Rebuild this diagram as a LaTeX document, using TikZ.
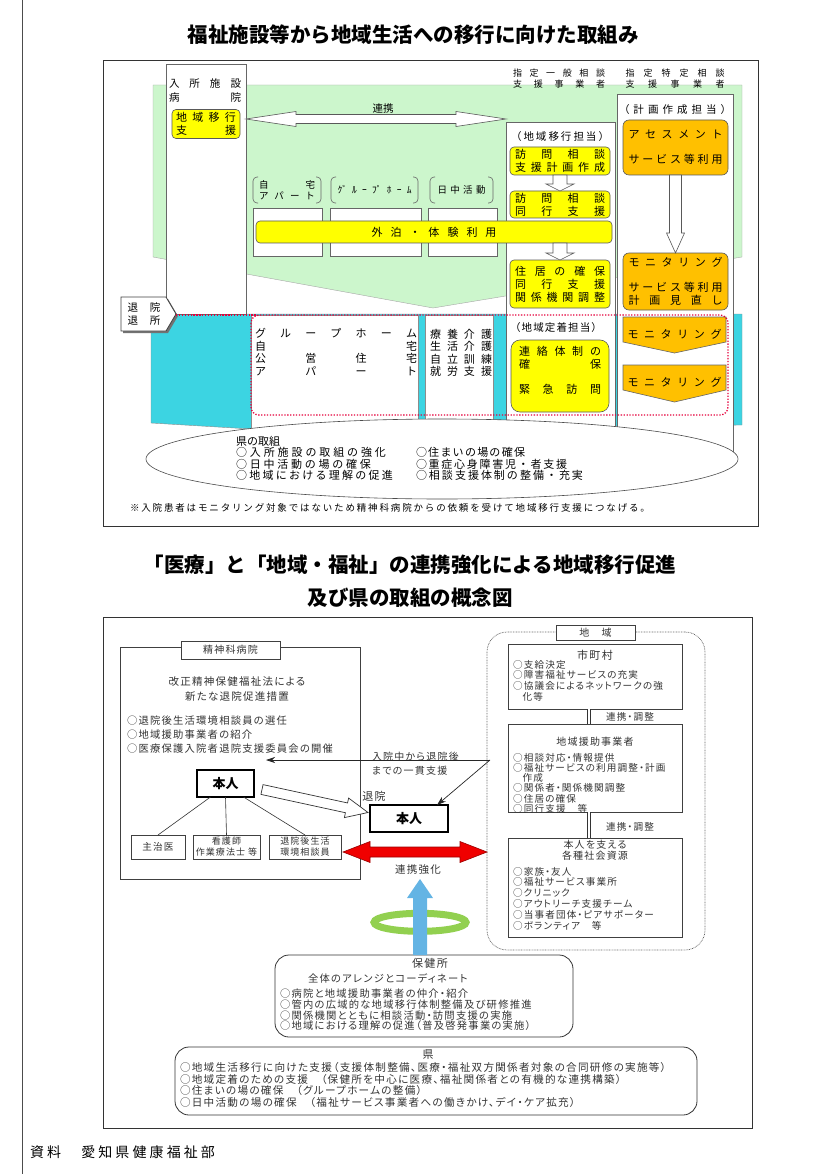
\documentclass[tikz,border=0pt]{standalone}
\usepackage{fontspec}
\setmainfont{Noto Sans CJK JP}
\newfontfamily\jpB{Noto Sans CJK JP}[CharacterWidth=AlternateProportional,LetterSpace=12]
\usetikzlibrary{calc,arrows.meta}
\definecolor{lgreen}{RGB}{204,246,204}
\definecolor{cyanb}{RGB}{60,212,226}
\definecolor{yel}{RGB}{255,255,0}
\definecolor{org}{RGB}{255,192,0}
\definecolor{redA}{RGB}{240,0,0}
\definecolor{blueA}{RGB}{100,180,228}
\definecolor{greenR}{RGB}{146,208,80}
\definecolor{dotred}{RGB}{230,0,60}
\newcommand\sprd[2]{\makebox[#1]{\sprdfirst#2\relax}}
\def\sprdfirst#1{#1\sprdnext}
\def\sprdnext#1{\ifx#1\relax\else\hfill#1\expandafter\sprdnext\fi}
\newcommand\fsz[2]{\fontsize{#1}{#2}\selectfont}
\newcommand\sarrow[6]{%
  \coordinate (sa-m) at ($(#2)!#5!(#1)$);
  \filldraw[#6] ($(#1)!#3!90:(#2)$) -- ($(sa-m)!#3!90:(#2)$) -- ($(sa-m)!#4!90:(#2)$) -- (#2) -- ($(sa-m)!#4!-90:(#2)$) -- ($(sa-m)!#3!-90:(#2)$) -- ($(#1)!#3!-90:(#2)$) -- cycle;}
\newcommand\darrow[6]{%
  \coordinate (da-a) at ($(#1)!#5!(#2)$);
  \coordinate (da-b) at ($(#2)!#5!(#1)$);
  \filldraw[#6] (#1) -- ($(da-a)!#4!90:(#2)$) -- ($(da-a)!#3!90:(#2)$) -- ($(da-b)!#3!-90:(#1)$) -- ($(da-b)!#4!-90:(#1)$) -- (#2) -- ($(da-b)!#4!90:(#1)$) -- ($(da-b)!#3!90:(#1)$) -- ($(da-a)!#3!-90:(#2)$) -- ($(da-a)!#4!-90:(#2)$) -- cycle;}
\begin{document}
\begin{tikzpicture}[x=1pt,y=-1pt,
  every node/.style={inner sep=0pt, outer sep=0pt},
  ybox/.style={draw=black!65, fill=yel, line width=0.6pt, rounded corners=4pt, align=center, font=\fsz{11}{13}},
  obox/.style={draw=black!65, fill=org, line width=0.6pt, rounded corners=6pt, align=center},
  colbox/.style={draw=black!60, fill=white, line width=0.6pt},
  wbox/.style={draw=black!60, fill=white, line width=0.6pt},
  reddot/.style={draw=dotred, line width=1.3pt, dash pattern=on 1.3pt off 1.6pt},
  hol/.style={fill=white, draw=black!65, line width=0.6pt},
  bbox/.style={draw=black!75, line width=0.8pt, fill=white},
  bt/.style={font=\jpB\fsz{9.6}{10.7}, text=black!80, align=left},
  brk/.style={draw=black!60, line width=0.6pt, rounded corners=4pt}
]
\useasboundingbox (0,0) rectangle (829,1174);
% page frame
\draw[black!70, line width=0.8pt] (22,0) -- (22,1174);

% ================= TOP =================
\node[font=\bfseries\fsz{20.5}{22}] (title1) at (413,35) {福祉施設等から地域生活への移行に向けた取組み};
\node[draw=black!80, line width=0.9pt, minimum width=655pt, minimum height=466pt, anchor=north west] (topframe) at (103,60) {};

\filldraw[fill=lgreen, draw=black!35, line width=0.4pt] (153,85) -- (742,85) -- (742,257) -- (433,308) -- (153,257) -- cycle;
\filldraw[fill=cyanb, draw=black!45, line width=0.4pt] (151,314) -- (742,314) -- (742,425) -- (251,429) -- (151,423) -- cycle;
\filldraw[fill=white, draw=black!45, line width=0.4pt] (251,315) rectangle (418,440);
\filldraw[fill=white, draw=black!45, line width=0.4pt] (425,315) rectangle (493,440);

\node[colbox, minimum width=80pt, minimum height=250pt] (col1) at (206,189) {};
\node[colbox, minimum width=109pt, minimum height=338pt] (col2) at (560.5,291) {};
\node[colbox, minimum width=116pt, minimum height=366pt] (col3) at (675,277) {};

\filldraw[fill=white, draw=black!70, line width=0.6pt] (442,459) ellipse [x radius=296pt, y radius=40pt];

% column 1
\node[font=\fsz{10.5}{12}] (nyusho) at (205,84) {\sprd{72pt}{入所施設}};
\node[font=\fsz{10.5}{12}] (byoin) at (205,98) {\sprd{72pt}{病院}};
\node[ybox, minimum width=68pt, minimum height=29pt] (ikou) at (206,124) {\sprd{60pt}{地域移行}\\\sprd{60pt}{支援}};

% renkei arrow
\coordinate (rkA) at (col1.east |- 0,119);
\coordinate (rkB) at (col2.west |- 0,119);
\darrow{rkA}{rkB}{4.5pt}{7.5pt}{50pt}{hol}
\node[font=\fsz{10.5}{12}] (renkei) at (383,109) {連携};

% headers
\node[font=\fsz{9}{11}, align=center] (hd1) at (559,79) {\sprd{92pt}{指定一般相談}\\\sprd{92pt}{支援事業者}};
\node[font=\fsz{9}{11}, align=center] (hd2) at (675,79) {\sprd{99pt}{指定特定相談}\\\sprd{99pt}{支援事業者}};

% column 3
\node[font=\fsz{10.5}{12}] (keikaku) at (675,110) {\sprd{112pt}{（計画作成担当）}};
\node[obox, minimum width=105pt, minimum height=55pt, font=\fsz{11}{25}] (ass) at (675.5,147.5) {\sprd{94pt}{アセスメント}\\\sprd{94pt}{サービス等利用}};
\node[obox, minimum width=105pt, minimum height=57pt, font=\fsz{11}{12.5}] (mon) at (675.5,281.5) {\sprd{94pt}{モニタリング}\\[12.5pt]\sprd{94pt}{サービス等利用}\\\sprd{94pt}{計画見直し}};
\sarrow{ass.south}{mon.north}{6pt}{9pt}{20pt}{hol}

% column 2
\node[font=\fsz{10.5}{12}] (ikoutan) at (560,137) {\sprd{98pt}{（地域移行担当）}};
\node[ybox, minimum width=100pt, minimum height=28pt] (h1) at (560,161) {\sprd{90pt}{訪問相談}\\\sprd{90pt}{支援計画作成}};
\node[ybox, minimum width=100pt, minimum height=27pt] (h2) at (560,204.5) {\sprd{90pt}{訪問相談}\\\sprd{90pt}{同行支援}};
\sarrow{h1.south}{h2.north}{7pt}{14pt}{7pt}{hol}

% bracket labels and white boxes
\node[font=\fsz{9.5}{11}, align=center, minimum width=68pt, minimum height=26pt] (bl1) at (287,190) {\sprd{56pt}{自宅}\\\sprd{56pt}{アパート}};
\node[font=\fsz{9.5}{11}, minimum width=87pt, minimum height=26pt] (bl2) at (374.5,190) {\makebox[74pt]{ｸﾞ\hfill ﾙ\hfill ｰ\hfill ﾌﾟ\hfill ﾎ\hfill ｰ\hfill ﾑ}};
\node[font=\fsz{9.5}{11}, minimum width=63pt, minimum height=26pt] (bl3) at (461.5,190) {\sprd{48pt}{日中活動}};
\foreach \b in {bl1,bl2,bl3} {
  \draw[brk] ([xshift=5pt]\b.north west) -- (\b.north west) -- (\b.south west) -- ([xshift=5pt]\b.south west);
  \draw[brk] ([xshift=-5pt]\b.north east) -- (\b.north east) -- (\b.south east) -- ([xshift=-5pt]\b.south east);
}
\node[wbox, minimum width=69pt, minimum height=48pt] (wb1) at (287.5,232) {};
\node[wbox, minimum width=91pt, minimum height=48pt] (wb2) at (375.5,232) {};
\node[wbox, minimum width=69pt, minimum height=48pt] (wb3) at (462.5,232) {};

\node[ybox, minimum width=356pt, minimum height=22pt] (gai) at (434,232) {\sprd{125pt}{外泊・体験利用}};
\node[ybox, minimum width=100pt, minimum height=48pt] (h3) at (560,284) {\sprd{90pt}{住居の確保}\\\sprd{90pt}{同行支援}\\\sprd{90pt}{関係機関調整}};
\coordinate (ga1) at (h3.north |- gai.south);
\sarrow{ga1}{h3.north}{7pt}{14pt}{7pt}{hol}

% taiin pentagon
\fill[black!55] (123,299) -- (168,299) -- (178,316) -- (168,333) -- (123,333) -- cycle;
\filldraw[fill=white, draw=black!75, line width=0.8pt] (121,297) -- (166,297) -- (176,314) -- (166,331) -- (121,331) -- cycle;
\node[font=\fsz{10.5}{13}, align=center] (taiin) at (144,314) {\sprd{33pt}{退院}\\\sprd{33pt}{退所}};

% community texts
\node[font=\fsz{11}{12.6}, align=left] (ghT) at (336,352) {\sprd{162pt}{グループホーム}\\\sprd{162pt}{自宅}\\\sprd{162pt}{公営住宅}\\\sprd{162pt}{アパート}};
\node[font=\fsz{11}{12.4}, align=left] (ryoT) at (461,353) {\sprd{62pt}{療養介護}\\\sprd{62pt}{生活介護}\\\sprd{62pt}{自立訓練}\\\sprd{62pt}{就労支援}};
\node[font=\fsz{10.5}{12}] (teitan) at (556,328) {\sprd{92pt}{（地域定着担当）}};
\node[ybox, rounded corners=9pt, minimum width=98pt, minimum height=72pt, font=\fsz{11}{12.5}] (teichaku) at (560,376) {\sprd{82pt}{連絡体制の}\\\sprd{82pt}{確保}\\\mbox{}\\\sprd{82pt}{緊急訪問}\\\mbox{}};

\filldraw[fill=org, draw=black!60, line width=0.6pt] (623,317) -- (726,317) -- (726,342) -- (674.5,353) -- (623,342) -- cycle;
\node[font=\fsz{11}{13}] (mon1) at (674.5,334) {\sprd{94pt}{モニタリング}};
\filldraw[fill=org, draw=black!60, line width=0.6pt] (623,365) -- (726,365) -- (726,390) -- (674.5,402) -- (623,390) -- cycle;
\node[font=\fsz{11}{13}] (mon2) at (674.5,382) {\sprd{94pt}{モニタリング}};

\draw[reddot] (176,315) -- (256,315);
\draw[reddot, rounded corners=8pt] (251,315) rectangle (728,415);

% ellipse text
\node[font=\fsz{11}{11.2}, anchor=north west, align=left] (kenT) at (236,436.5) {県の取組\\\sprd{150pt}{○入所施設の取組の強化}\\\sprd{135pt}{○日中活動の場の確保}\\\sprd{157pt}{○地域における理解の促進}};
\node[font=\fsz{11}{11.2}, anchor=north west, align=left] (kenR) at (416,447.7) {\sprd{109pt}{○住まいの場の確保}\\\sprd{151pt}{○重症心身障害児・者支援}\\\sprd{167pt}{○相談支援体制の整備・充実}};
\node[font=\fsz{9.5}{11}] (note) at (390,508) {\sprd{520pt}{※入院患者はモニタリング対象ではないため精神科病院からの依頼を受けて地域移行支援につなげる。}};

% ================= BOTTOM =================
\node[font=\bfseries\fsz{20.5}{33}, align=center] (title2) at (410,581.5) {「医療」と「地域・福祉」の連携強化による地域移行促進\\及び県の取組の概念図};
\node[draw=black!80, line width=0.9pt, minimum width=649pt, minimum height=511pt, anchor=north west] (botframe) at (103,617) {};

% hospital
\node[bbox, minimum width=240pt, minimum height=232pt, anchor=north west] (seishin) at (120,647) {};
\node[bbox, minimum width=99pt, minimum height=18pt, font=\jpB\fsz{10}{12}, text=black!80] (seitab) at (230.5,650) {精神科病院};
\node[font=\jpB\fsz{10.5}{14.5}, text=black!80, align=center] (kaisei) at (237,689) {改正精神保健福祉法による\\新たな退院促進措置};
\node[bt, font=\jpB\fsz{10.3}{14}, anchor=north west] (seiL) at (127,715.5) {○退院後生活環境相談員の選任\\○地域援助事業者の紹介\\○医療保護入院者退院支援委員会の開催};

\node[draw=black, line width=1.8pt, fill=white, minimum width=57pt, minimum height=27pt, font=\bfseries\fsz{13}{15}] (hon1) at (225.5,783.5) {本人};
\node[bbox, minimum width=54pt, minimum height=24pt, font=\jpB\fsz{9.6}{11}, text=black!80] (shuji) at (158,847) {主治医};
\node[bbox, minimum width=67pt, minimum height=24pt, font=\jpB\fsz{9}{11}, text=black!80, align=center] (kango) at (226.5,847) {看護師\\作業療法士 等};
\node[bbox, minimum width=72pt, minimum height=24pt, font=\jpB\fsz{9}{11}, text=black!80, align=center] (soudan) at (305,847) {退院後生活\\環境相談員};
\draw[black!80, line width=0.6pt] ([xshift=-15pt]hon1.south) -- (shuji.north);
\draw[black!80, line width=0.6pt] (hon1.south) -- (kango.north);
\draw[black!80, line width=0.6pt] ([xshift=18pt]hon1.south) -- (soudan.north);

\node[draw=black, line width=1.8pt, fill=white, minimum width=78pt, minimum height=27pt, font=\bfseries\fsz{13}{15}] (hon2) at (409,818.5) {本人};

% community region
\node[draw=black!60, dash pattern=on 0.8pt off 0.8pt, line width=0.7pt, rounded corners=20pt, minimum width=218pt, minimum height=318pt, anchor=north west] (chiiki) at (487,632) {};
\node[bbox, minimum width=79pt, minimum height=15pt, font=\jpB\fsz{10}{12}, text=black!80] (chtab) at (595.5,632.5) {地　域};

\node[bbox, minimum width=174pt, minimum height=65pt, anchor=north west] (shi) at (508,644) {};
\node[font=\jpB\fsz{11}{12}, text=black!80] (shiT) at (595,655) {市町村};
\node[bt, anchor=north west] (shiL) at (513,660) {○支給決定\\○障害福祉サービスの充実\\○協議会によるネットワークの強\\\hspace*{1em}化等};

\node[bbox, minimum width=174pt, minimum height=88pt, anchor=north west] (enjo) at (508,724) {};
\node[font=\jpB\fsz{10}{12}, text=black!80] (enjoT) at (595,742) {地域援助事業者};
\node[bt, font=\jpB\fsz{9.6}{10.3}, anchor=north west] (enjoL) at (513,753) {○相談対応・情報提供\\○福祉サービスの利用調整・計画\\\hspace*{1em}作成\\○関係者・関係機関調整\\○住居の確保\\○同行支援　等};

\node[bbox, minimum width=174pt, minimum height=99pt, anchor=north west] (shien) at (508,838) {};
\node[font=\jpB\fsz{10}{10.5}, text=black!80, align=center] (shienT) at (595,850) {本人を支える\\各種社会資源};
\node[bt, font=\jpB\fsz{9.6}{10.8}, anchor=north west] (shienL) at (513,867) {○家族・友人\\○福祉サービス事業所\\○クリニック\\○アウトリーチ支援チーム\\○当事者団体・ピアサポーター\\○ボランティア　等};

\draw[black!80, line width=0.6pt, double=white, double distance=2.2pt] ($(shi.south)+(-6,0)$) -- ($(enjo.north)+(-6,0)$);
\draw[black!80, line width=0.6pt, double=white, double distance=2.2pt] ($(enjo.south)+(-6,0)$) -- ($(shien.north)+(-6,0)$);
\node[font=\jpB\fsz{9.6}{11}, text=black!80] (rc1) at (630,717) {連携・調整};
\node[font=\jpB\fsz{9.6}{11}, text=black!80] (rc2) at (630,827) {連携・調整};

% arrows between hospital and community
\coordinate (src) at ([xshift=-18pt, yshift=8pt]enjo.west);
\node[font=\jpB\fsz{10}{14}, text=black!80, align=left, anchor=west] (ikkan) at (372,764) {入院中から退院後\\までの一貫支援};
\draw[black!85, line width=0.7pt, -{Stealth[length=9pt,width=6pt]}] (src) -- ($(hon1.east |- src)+(12,0)$);
\draw[black!85, line width=0.7pt, -{Stealth[length=9pt,width=6pt]}] (src) -- ($(hon2.north)+(28,0)$);

\coordinate (tS) at ($(hon1.east)+(8,6)$);
\coordinate (tT) at ($(hon2.west)+(-2,-6)$);
\sarrow{tS}{tT}{5pt}{10pt}{22pt}{fill=white, draw=black!80, line width=0.7pt}
\node[font=\jpB\fsz{11}{12}, text=black!80] (taiinL) at (374,796) {退院};

\coordinate (rS) at ($(soudan.east)+(2,5)$);
\coordinate (rT) at (chiiki.west |- rS);
\darrow{rS}{rT}{5pt}{10.5pt}{27pt}{fill=redA, draw=red!60!black, line width=0.6pt}
\node[font=\jpB\fsz{10.5}{12}, text=black!80] (kyoka) at (418,870) {連携強化};

% hokenjo
\node[draw=black!80, line width=0.8pt, rounded corners=14pt, minimum width=298pt, minimum height=82pt, anchor=north west] (hoken) at (275,955) {};
\coordinate (bS) at ($(hoken.north)+(-4,0)$);
\coordinate (bT) at ($(bS)+(0,-76)$);
\draw[greenR, line width=7pt] ($(bS)!0.43!(bT)$) ellipse [x radius=46pt, y radius=9pt];
\sarrow{bS}{bT}{7pt}{13pt}{19pt}{fill=blueA, draw=none}
\node[font=\jpB\fsz{11}{12}, text=black!80] (hokenT) at (430,963) {保健所};
\node[font=\jpB\fsz{10.3}{12}, text=black!80, anchor=west] (hokenL1) at (308,979) {全体のアレンジとコーディネート};
\node[bt, font=\jpB\fsz{10.3}{10.7}, anchor=north west] (hokenL) at (280,989) {○病院と地域援助事業者の仲介・紹介\\○管内の広域的な地域移行体制整備及び研修推進\\○関係機関とともに相談活動・訪問支援の実施\\○地域における理解の促進（普及啓発事業の実施）};

% prefecture
\node[draw=black!80, line width=0.8pt, rounded corners=14pt, minimum width=522pt, minimum height=68pt, anchor=north west] (kenbox) at (175,1047) {};
\node[font=\jpB\fsz{11}{12}, text=black!80] (kenT2) at (428,1055) {県};
\node[bt, font=\jpB\fsz{10.6}{11.5}, anchor=north west] (kenL) at (180,1062.5) {○地域生活移行に向けた支援（支援体制整備、医療・福祉双方関係者対象の合同研修の実施等）\\○地域定着のための支援　（保健所を中心に医療、福祉関係者との有機的な連携構築）\\○住まいの場の確保　（グループホームの整備）\\○日中活動の場の確保　（福祉サービス事業者への働きかけ、デイ・ケア拡充）};

% source
\node[font=\fsz{14}{16}, anchor=west] (shiryo) at (30,1152) {\sprd{185pt}{資料　愛知県健康福祉部}};
\end{tikzpicture}
\end{document}
